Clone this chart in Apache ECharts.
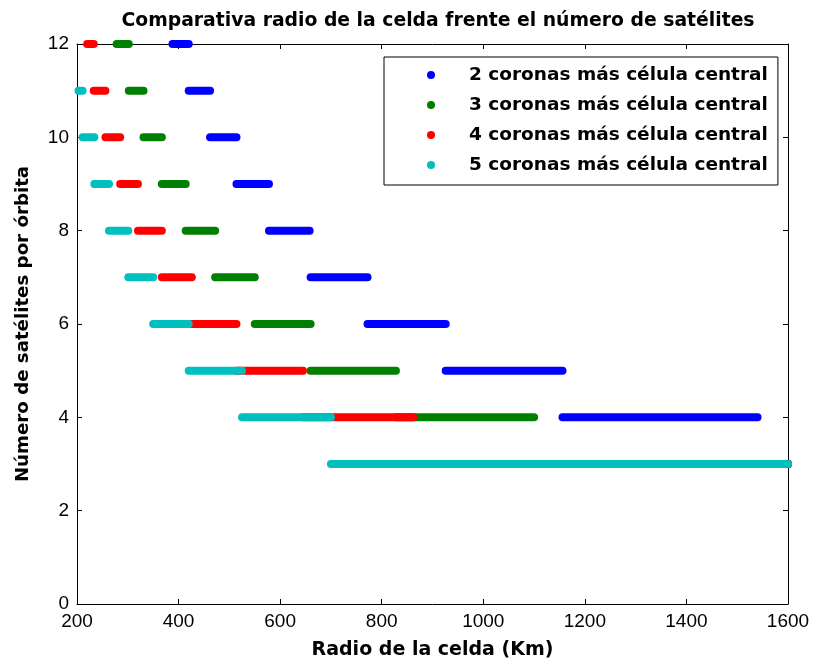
<!DOCTYPE html>
<html>
<head>
<meta charset="utf-8">
<script src="https://cdn.jsdelivr.net/npm/echarts@6/dist/echarts.min.js"></script>
<style>
  html, body { margin: 0; padding: 0; background: #fff; }
  #chart { width: 814px; height: 666px; }
</style>
</head>
<body>
<div id="chart"></div>
<script>
// Satellites per orbit, one row per value (top to bottom)
const satellites = [12, 11, 10, 9, 8, 7, 6, 5, 4, 3];

// Cell radius range (km) covered at each satellite count, per configuration
const rangesCoronas2 = [[388, 420], [420, 462], [462, 514], [514, 578], [578, 658],
                        [660, 772], [772, 926], [926, 1156], [1156, 1540], [1540, 1600]];
const rangesCoronas3 = [[278, 302], [302, 331], [331, 367], [367, 414], [414, 472],
                        [472, 550], [550, 660], [660, 828], [828, 1100], [1100, 1600]];
const rangesCoronas4 = [[220, 233], [233, 256], [256, 285], [285, 320], [320, 367],
                        [367, 426], [426, 514], [514, 645], [645, 862], [862, 1600]];
const rangesCoronas5 = [null, [203, 211], [211, 234], [234, 263], [263, 301],
                        [301, 350], [350, 420], [420, 525], [525, 700], [700, 1600]];

const seriesNames = [
  '2 coronas más célula central',
  '3 coronas más célula central',
  '4 coronas más célula central',
  '5 coronas más célula central'
];
const seriesColors = ['#0000ff', '#008000', '#ff0000', '#00bfbf'];
const allRanges = [rangesCoronas2, rangesCoronas3, rangesCoronas4, rangesCoronas5];

const xTicks = [200, 400, 600, 800, 1000, 1200, 1400, 1600];
const yTicks = [0, 2, 4, 6, 8, 10, 12];

const FONT = '"Liberation Sans", Arial, sans-serif';
const BOLD_FONT = '"DejaVu Sans", "Liberation Sans", sans-serif';

function toRows(ranges) {
  const rows = [];
  ranges.forEach((r, i) => {
    if (r) rows.push([r[0], r[1], satellites[i]]);
  });
  return rows;
}

function segmentRenderer(color) {
  return function (params, api) {
    const a = api.coord([api.value(0), api.value(2)]);
    const b = api.coord([api.value(1), api.value(2)]);
    return {
      type: 'line',
      shape: { x1: a[0], y1: a[1], x2: b[0], y2: b[1] },
      style: { stroke: color, lineWidth: 8, lineCap: 'round' }
    };
  };
}

const axisCommon = {
  axisLine: { show: true, onZero: false, lineStyle: { color: '#000', width: 1 } },
  axisTick: { show: true, inside: true, length: 5, lineStyle: { color: '#000' } },
  splitLine: { show: false }
};

const plainNumber = v => String(v);

const chart = echarts.init(document.getElementById('chart'), null, { renderer: 'canvas' });

chart.setOption({
  animation: false,
  backgroundColor: '#fff',
  title: {
    text: 'Comparativa radio de la celda frente el número de satélites',
    left: 433,
    top: 7,
    textAlign: 'center',
    textStyle: { fontFamily: BOLD_FONT, fontSize: 18.8, fontWeight: 'bold', color: '#000' }
  },
  legend: {
    data: seriesNames,
    orient: 'vertical',
    left: 384,
    top: 57,
    icon: 'circle',
    itemWidth: 8,
    itemHeight: 8,
    itemGap: 10,
    padding: [8, 10, 10, 43],
    borderColor: '#000',
    borderWidth: 1,
    backgroundColor: '#fff',
    textStyle: {
      fontFamily: BOLD_FONT, fontSize: 18.5, fontWeight: 'bold', color: '#000',
      lineHeight: 20, padding: [0, 0, 0, 29]
    }
  },
  grid: { left: 77, right: 26, top: 44, bottom: 62, containLabel: false },
  xAxis: [
    Object.assign({
      type: 'value', min: xTicks[0], max: xTicks[xTicks.length - 1], interval: 200,
      position: 'bottom',
      name: 'Radio de la celda (Km)',
      nameLocation: 'middle',
      nameGap: 37,
      nameTextStyle: { fontFamily: BOLD_FONT, fontSize: 19, fontWeight: 'bold', color: '#000' },
      axisLabel: { margin: 8, fontFamily: FONT, fontSize: 19, color: '#000', formatter: plainNumber }
    }, axisCommon),
    Object.assign({
      type: 'value', min: xTicks[0], max: xTicks[xTicks.length - 1], interval: 200,
      position: 'top',
      axisLabel: { show: false }
    }, axisCommon)
  ],
  yAxis: [
    Object.assign({
      type: 'value', min: yTicks[0], max: yTicks[yTicks.length - 1], interval: 2,
      position: 'left',
      name: 'Número de satélites por órbita',
      nameLocation: 'middle',
      nameGap: 45,
      nameTextStyle: { fontFamily: BOLD_FONT, fontSize: 18.2, fontWeight: 'bold', color: '#000' },
      axisLabel: { margin: 8, fontFamily: FONT, fontSize: 19, color: '#000', formatter: plainNumber }
    }, axisCommon),
    Object.assign({
      type: 'value', min: yTicks[0], max: yTicks[yTicks.length - 1], interval: 2,
      position: 'right',
      axisLabel: { show: false }
    }, axisCommon)
  ],
  series: allRanges.map((ranges, k) => ({
    name: seriesNames[k],
    type: 'custom',
    xAxisIndex: 0,
    yAxisIndex: 0,
    clip: false,
    itemStyle: { color: seriesColors[k] },
    encode: { x: [0, 1], y: 2 },
    renderItem: segmentRenderer(seriesColors[k]),
    data: toRows(ranges),
    z: 2 + k
  }))
});
</script>
</body>
</html>
